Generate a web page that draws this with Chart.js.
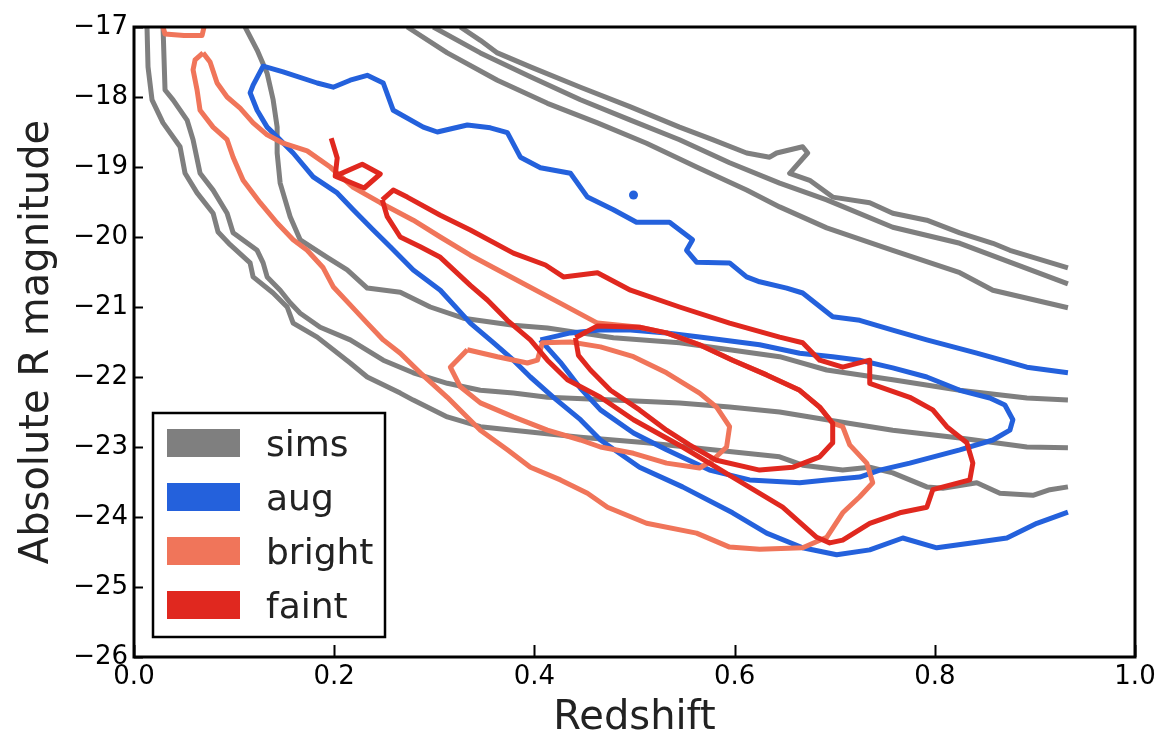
<!DOCTYPE html>
<html>
<head>
<meta charset="utf-8">
<script src="https://cdn.jsdelivr.net/npm/chart.js@4.4.1/dist/chart.umd.min.js"></script>
<style>
  html, body { margin: 0; padding: 0; background: #fff; }
  canvas { display: block; }
</style>
</head>
<body>
<canvas id="chart" width="1166" height="741"></canvas>
<script>
// Redshift vs absolute R magnitude: density contours of each galaxy sample.
// Every contour line is a list of [redshift, magnitude] points.

const xTicks = [0.0, 0.2, 0.4, 0.6, 0.8, 1.0];
const yTicks = [-17, -18, -19, -20, -21, -22, -23, -24, -25, -26];

// sims: three nested levels, each cut by the top edge and by z = 0.93
const simsOuterLower = [[0.013,-17.0],[0.014,-17.57],[0.018,-18.04],[0.029,-18.37],[0.046,-18.71],[0.051,-19.09],[0.063,-19.37],[0.079,-19.66],[0.084,-19.93],[0.096,-20.11],[0.116,-20.37],[0.119,-20.57],[0.139,-20.8],[0.153,-21.0],[0.159,-21.23],[0.183,-21.43],[0.216,-21.8],[0.233,-22.0],[0.266,-22.23],[0.279,-22.33],[0.313,-22.57],[0.346,-22.71],[0.379,-22.76],[0.446,-22.86],[0.512,-22.94],[0.578,-23.04],[0.645,-23.14],[0.668,-23.26],[0.708,-23.33],[0.735,-23.29],[0.758,-23.37],[0.792,-23.57],[0.808,-23.59],[0.842,-23.51],[0.865,-23.66],[0.898,-23.69],[0.915,-23.61],[0.933,-23.57]];
const simsMidLower = [[0.029,-17.0],[0.031,-17.9],[0.039,-18.04],[0.053,-18.33],[0.059,-18.61],[0.066,-19.09],[0.079,-19.33],[0.093,-19.66],[0.099,-19.94],[0.123,-20.19],[0.129,-20.37],[0.133,-20.57],[0.146,-20.76],[0.156,-20.94],[0.166,-21.09],[0.186,-21.29],[0.216,-21.47],[0.249,-21.76],[0.279,-21.94],[0.313,-22.09],[0.346,-22.19],[0.379,-22.23],[0.413,-22.29],[0.479,-22.33],[0.545,-22.37],[0.595,-22.43],[0.645,-22.5],[0.692,-22.61],[0.758,-22.76],[0.825,-22.87],[0.892,-23.0],[0.933,-23.01]];
const simsInnerLower = [[0.111,-17.0],[0.123,-17.33],[0.133,-17.66],[0.139,-18.04],[0.143,-18.43],[0.143,-18.8],[0.146,-19.23],[0.156,-19.71],[0.166,-20.04],[0.193,-20.29],[0.213,-20.47],[0.233,-20.73],[0.266,-20.79],[0.296,-21.0],[0.329,-21.16],[0.379,-21.26],[0.413,-21.3],[0.446,-21.37],[0.479,-21.44],[0.545,-21.51],[0.595,-21.61],[0.645,-21.71],[0.692,-21.9],[0.758,-22.04],[0.825,-22.19],[0.892,-22.3],[0.933,-22.33]];
const simsOuterUpper = [[0.326,-17.0],[0.346,-17.19],[0.363,-17.37],[0.396,-17.57],[0.446,-17.86],[0.496,-18.14],[0.545,-18.43],[0.578,-18.61],[0.612,-18.8],[0.635,-18.86],[0.642,-18.8],[0.668,-18.71],[0.673,-18.8],[0.655,-19.09],[0.675,-19.19],[0.698,-19.43],[0.735,-19.51],[0.758,-19.66],[0.792,-19.76],[0.825,-19.94],[0.858,-20.09],[0.875,-20.19],[0.933,-20.44]];
const simsMidUpper = [[0.299,-17.0],[0.346,-17.37],[0.396,-17.71],[0.446,-18.04],[0.496,-18.33],[0.545,-18.61],[0.595,-18.94],[0.645,-19.23],[0.692,-19.47],[0.758,-19.86],[0.825,-20.09],[0.875,-20.36],[0.933,-20.67]];
const simsInnerUpper = [[0.273,-17.0],[0.313,-17.37],[0.363,-17.76],[0.413,-18.09],[0.463,-18.37],[0.512,-18.66],[0.562,-19.0],[0.612,-19.33],[0.645,-19.57],[0.692,-19.87],[0.758,-20.19],[0.825,-20.51],[0.858,-20.76],[0.933,-21.01]];

// aug
const augOuter = [[0.933,-21.94],[0.892,-21.86],[0.842,-21.66],[0.792,-21.47],[0.758,-21.33],[0.725,-21.19],[0.698,-21.14],[0.668,-20.8],[0.652,-20.73],[0.625,-20.64],[0.612,-20.57],[0.595,-20.37],[0.562,-20.36],[0.552,-20.19],[0.558,-20.04],[0.535,-19.79],[0.502,-19.79],[0.479,-19.61],[0.453,-19.43],[0.436,-19.09],[0.406,-19.01],[0.386,-18.86],[0.373,-18.51],[0.356,-18.44],[0.333,-18.4],[0.303,-18.5],[0.289,-18.43],[0.259,-18.19],[0.249,-17.8],[0.233,-17.69],[0.216,-17.76],[0.199,-17.86],[0.183,-17.8],[0.149,-17.64],[0.129,-17.56],[0.119,-17.83],[0.116,-17.94],[0.123,-18.19],[0.133,-18.43],[0.143,-18.57],[0.159,-18.8],[0.179,-19.14],[0.203,-19.37],[0.219,-19.61],[0.239,-19.9],[0.256,-20.14],[0.279,-20.47],[0.306,-20.76],[0.336,-21.23],[0.359,-21.51],[0.379,-21.76],[0.396,-22.0],[0.419,-22.29],[0.446,-22.61],[0.466,-22.9],[0.505,-23.29],[0.548,-23.57],[0.598,-23.94],[0.632,-24.23],[0.668,-24.44],[0.702,-24.54],[0.735,-24.47],[0.768,-24.3],[0.802,-24.44],[0.842,-24.36],[0.872,-24.3],[0.902,-24.09],[0.933,-23.93]];
const augInner = [[0.406,-21.47],[0.436,-21.37],[0.466,-21.33],[0.496,-21.33],[0.532,-21.37],[0.565,-21.43],[0.598,-21.49],[0.625,-21.54],[0.665,-21.66],[0.698,-21.71],[0.725,-21.76],[0.758,-21.87],[0.792,-22.0],[0.825,-22.19],[0.855,-22.3],[0.870,-22.4],[0.878,-22.61],[0.875,-22.76],[0.858,-22.9],[0.825,-23.04],[0.775,-23.23],[0.745,-23.33],[0.725,-23.43],[0.692,-23.47],[0.665,-23.51],[0.615,-23.47],[0.575,-23.33],[0.532,-23.04],[0.499,-22.8],[0.466,-22.47],[0.446,-22.16],[0.426,-21.79],[0.406,-21.47]];
const augIsland = [[0.499,-19.4]];

// bright
const brightTop = [[0.029,-17.0],[0.031,-17.1],[0.05,-17.12],[0.068,-17.12],[0.07,-17.0]];
const brightOuter = [[0.069,-17.37],[0.061,-17.47],[0.059,-17.61],[0.063,-17.9],[0.066,-18.19],[0.079,-18.43],[0.093,-18.61],[0.099,-18.86],[0.109,-19.19],[0.126,-19.51],[0.143,-19.8],[0.159,-20.04],[0.173,-20.19],[0.189,-20.44],[0.199,-20.71],[0.216,-20.97],[0.233,-21.23],[0.249,-21.47],[0.266,-21.66],[0.286,-21.94],[0.313,-22.29],[0.346,-22.76],[0.373,-23.04],[0.396,-23.29],[0.426,-23.47],[0.453,-23.66],[0.473,-23.86],[0.512,-24.09],[0.562,-24.23],[0.595,-24.43],[0.625,-24.46],[0.668,-24.44],[0.692,-24.29],[0.708,-23.94],[0.725,-23.71],[0.738,-23.51],[0.732,-23.23],[0.715,-22.97],[0.708,-22.71],[0.698,-22.66],[0.685,-22.43],[0.665,-22.19],[0.632,-21.97],[0.598,-21.76],[0.565,-21.54],[0.532,-21.37],[0.505,-21.29],[0.463,-21.23],[0.429,-20.97],[0.379,-20.59],[0.336,-20.26],[0.306,-20.0],[0.279,-19.76],[0.246,-19.51],[0.219,-19.29],[0.196,-19.0],[0.173,-18.77],[0.149,-18.66],[0.133,-18.54],[0.119,-18.37],[0.106,-18.16],[0.093,-18.0],[0.083,-17.8],[0.076,-17.5],[0.069,-17.37]];
const brightInner = [[0.333,-21.61],[0.363,-21.71],[0.393,-21.8],[0.403,-21.76],[0.408,-21.51],[0.436,-21.5],[0.466,-21.57],[0.499,-21.71],[0.532,-21.94],[0.565,-22.23],[0.582,-22.43],[0.595,-22.71],[0.592,-23.0],[0.578,-23.19],[0.565,-23.3],[0.532,-23.23],[0.499,-23.09],[0.466,-23.0],[0.446,-22.9],[0.413,-22.76],[0.379,-22.57],[0.346,-22.37],[0.326,-22.14],[0.316,-21.86],[0.333,-21.61]];

// faint
const faintIsland = [[0.197,-18.59],[0.203,-18.87],[0.201,-19.13],[0.228,-18.96],[0.246,-19.1],[0.230,-19.3],[0.201,-19.13]];
const faintOuter = [[0.248,-19.47],[0.259,-19.33],[0.273,-19.43],[0.306,-19.69],[0.336,-19.9],[0.379,-20.23],[0.411,-20.4],[0.429,-20.57],[0.463,-20.51],[0.496,-20.76],[0.545,-21.0],[0.595,-21.23],[0.645,-21.43],[0.668,-21.51],[0.685,-21.76],[0.708,-21.86],[0.735,-21.76],[0.735,-22.09],[0.775,-22.29],[0.798,-22.47],[0.812,-22.71],[0.832,-22.94],[0.838,-23.23],[0.835,-23.47],[0.798,-23.61],[0.792,-23.86],[0.765,-23.94],[0.735,-24.09],[0.708,-24.33],[0.695,-24.37],[0.682,-24.29],[0.648,-23.86],[0.598,-23.43],[0.548,-23.0],[0.499,-22.61],[0.466,-22.29],[0.433,-22.04],[0.413,-21.76],[0.396,-21.47],[0.373,-21.19],[0.353,-20.9],[0.336,-20.69],[0.306,-20.29],[0.286,-20.14],[0.266,-20.0],[0.253,-19.71],[0.248,-19.47]];
const faintInner = [[0.441,-21.44],[0.463,-21.27],[0.505,-21.29],[0.532,-21.37],[0.565,-21.54],[0.598,-21.76],[0.632,-21.97],[0.665,-22.19],[0.685,-22.43],[0.698,-22.66],[0.698,-22.94],[0.685,-23.14],[0.658,-23.29],[0.625,-23.33],[0.582,-23.19],[0.555,-22.97],[0.532,-22.76],[0.505,-22.47],[0.476,-22.19],[0.456,-21.9],[0.444,-21.69],[0.441,-21.44]];

const series = [
  { label: 'sims',   color: '#7f7f7f', lines: [simsOuterLower, simsMidLower, simsInnerLower, simsOuterUpper, simsMidUpper, simsInnerUpper], dots: [] },
  { label: 'aug',    color: '#2461dc', lines: [augOuter, augInner], dots: [augIsland] },
  { label: 'bright', color: '#f0755a', lines: [brightTop, brightOuter, brightInner], dots: [] },
  { label: 'faint',  color: '#e0281f', lines: [faintIsland, faintOuter, faintInner], dots: [] }
];

const datasets = [];
series.forEach((s, i) => {
  const order = series.length - i;   // later samples are drawn on top
  s.lines.forEach(pts => datasets.push({
    label: s.label,
    data: pts.map(([x, y]) => ({ x, y })),
    showLine: true,
    borderColor: s.color,
    borderWidth: 5,
    borderJoinStyle: 'round',
    pointRadius: 0,
    pointHoverRadius: 0,
    tension: 0,
    fill: false,
    clip: 0,
    order
  }));
  s.dots.forEach(pts => datasets.push({
    label: s.label,
    data: pts.map(([x, y]) => ({ x, y })),
    showLine: false,
    pointRadius: 4.5,
    pointBorderWidth: 0,
    pointBackgroundColor: s.color,
    backgroundColor: s.color,
    borderColor: s.color,
    clip: 0,
    order
  }));
});

// frame on all four sides with inward ticks on the left and bottom
const framePlugin = {
  id: 'frame',
  afterDatasetsDraw(chart) {
    const { ctx, chartArea: a, scales } = chart;
    ctx.save();
    ctx.strokeStyle = '#000';
    ctx.lineWidth = 2;
    scales.x.ticks.forEach(t => {
      const px = Math.round(scales.x.getPixelForValue(t.value)) + 0.5;
      ctx.beginPath(); ctx.moveTo(px, a.bottom); ctx.lineTo(px, a.bottom - 12); ctx.stroke();
    });
    scales.y.ticks.forEach(t => {
      const py = Math.round(scales.y.getPixelForValue(t.value)) + 0.5;
      ctx.beginPath(); ctx.moveTo(a.left, py); ctx.lineTo(a.left + 9, py); ctx.stroke();
    });
    ctx.lineWidth = 3;
    ctx.strokeRect(a.left, a.top, a.right - a.left, a.bottom - a.top);
    ctx.restore();
  }
};

// framed legend in the lower-left corner of the plot
const legendPlugin = {
  id: 'boxLegend',
  afterDraw(chart) {
    const { ctx, chartArea: a } = chart;
    const left = a.left + 19, top = a.bottom - 244, w = 232, h = 224;
    ctx.save();
    ctx.fillStyle = '#fff';
    ctx.fillRect(left, top, w, h);
    ctx.strokeStyle = '#000';
    ctx.lineWidth = 2.5;
    ctx.strokeRect(left, top, w, h);
    ctx.font = '36px "DejaVu Sans"';
    ctx.textBaseline = 'alphabetic';
    ctx.textAlign = 'left';
    series.forEach((s, i) => {
      const cy = top + 30 + i * 54;
      ctx.fillStyle = s.color;
      ctx.fillRect(left + 14, cy - 14, 73, 28);
      ctx.fillStyle = '#222';
      ctx.fillText(s.label, left + 113, cy + 13);
    });
    ctx.restore();
  }
};

new Chart(document.getElementById('chart'), {
  type: 'scatter',
  data: { datasets },
  plugins: [framePlugin, legendPlugin],
  options: {
    responsive: false,
    animation: false,
    events: [],
    layout: { padding: { left: 0, top: 27, right: 31, bottom: 0 } },
    plugins: { legend: { display: false }, tooltip: { enabled: false } },
    scales: {
      x: {
        type: 'linear',
        min: 0, max: 1,
        afterFit: s => { s.height = 84; },
        afterBuildTicks: s => { s.ticks = xTicks.map(v => ({ value: v })); },
        grid: { display: false, drawTicks: false },
        border: { display: false },
        ticks: {
          padding: 5,
          color: '#000',
          maxRotation: 0,
          autoSkip: false,
          font: { family: 'DejaVu Sans', size: 26, lineHeight: 1.2 },
          callback: v => v.toFixed(1)
        },
        title: {
          display: true,
          text: 'Redshift',
          color: '#222',
          font: { family: 'DejaVu Sans', size: 40, lineHeight: 1 },
          padding: { top: 0, bottom: 2 }
        }
      },
      y: {
        type: 'linear',
        min: -26, max: -17,
        afterFit: s => { s.width = 134; },
        afterBuildTicks: s => { s.ticks = yTicks.map(v => ({ value: v })); },
        grid: { display: false, drawTicks: false },
        border: { display: false },
        ticks: {
          padding: 6,
          color: '#000',
          autoSkip: false,
          font: { family: 'DejaVu Sans', size: 26 },
          callback: v => '\u2212' + Math.abs(v)
        },
        title: {
          display: true,
          text: 'Absolute R magnitude',
          color: '#222',
          font: { family: 'DejaVu Sans', size: 40, lineHeight: 1 },
          padding: { top: 18, bottom: 0 }
        }
      }
    }
  }
});
</script>
</body>
</html>
